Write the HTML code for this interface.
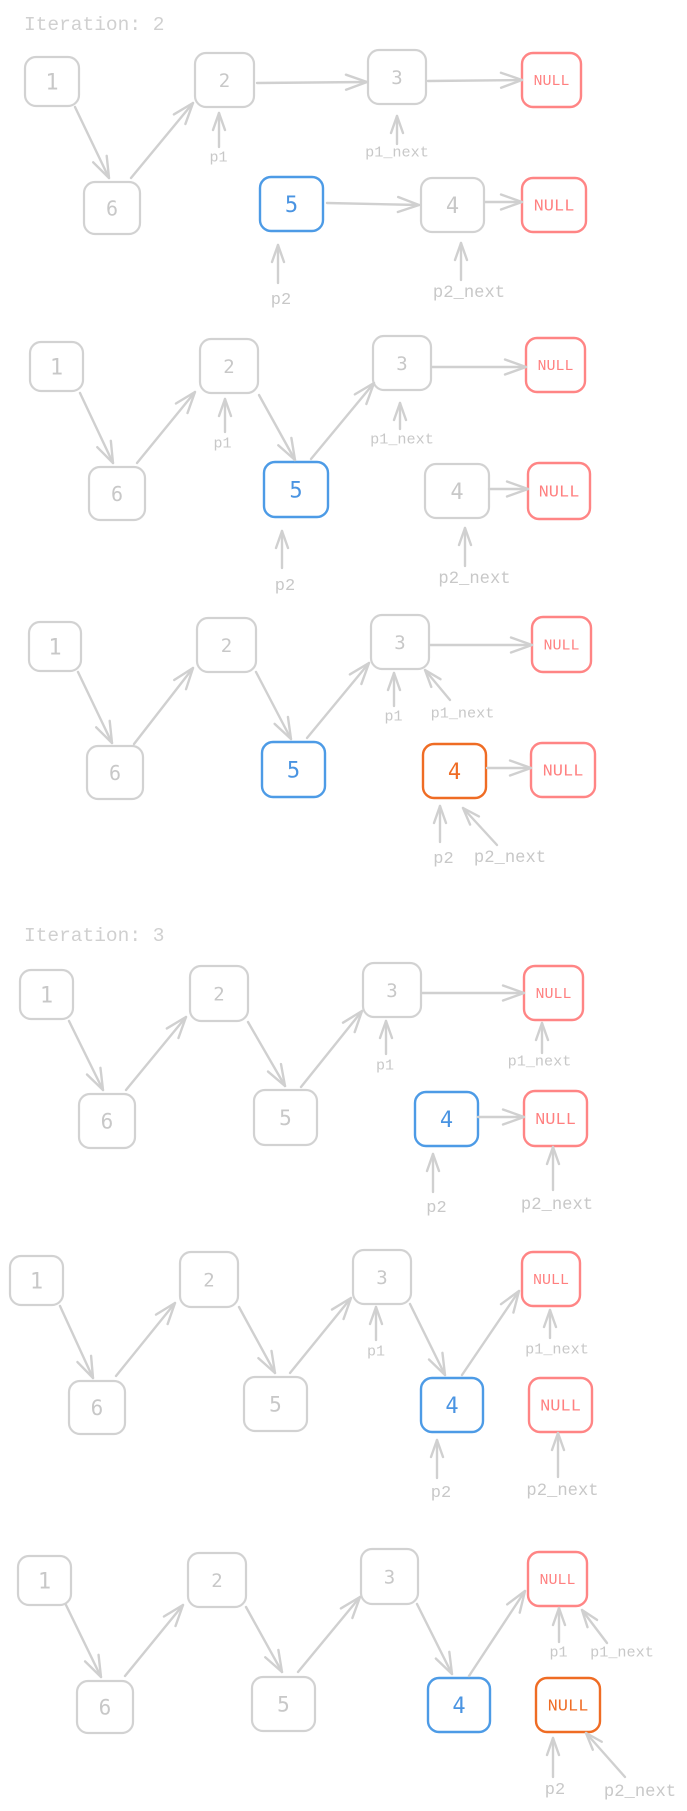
<!DOCTYPE html>
<html>
<head>
<meta charset="utf-8">
<style>
html,body{margin:0;padding:0;background:#fff;}
svg{display:block;}
</style>
</head>
<body>
<svg xmlns="http://www.w3.org/2000/svg" width="687" height="1811" viewBox="0 0 687 1811">
<defs>
<marker id="L" viewBox="-24 -12 26 24" refX="0" refY="0" markerWidth="26" markerHeight="24" markerUnits="userSpaceOnUse" orient="auto">
<path d="M-21,-7.5 L0,0 L-21,7.5" fill="none" stroke="#d0d0d0" stroke-width="2.4" stroke-linecap="round" stroke-linejoin="round"/>
</marker>
<marker id="M" viewBox="-20 -10 22 20" refX="0" refY="0" markerWidth="22" markerHeight="20" markerUnits="userSpaceOnUse" orient="auto">
<path d="M-17,-6 L0,0 L-17,6" fill="none" stroke="#d0d0d0" stroke-width="2.4" stroke-linecap="round" stroke-linejoin="round"/>
</marker>
</defs>
<rect width="687" height="1811" fill="#fff"/>

<g font-family="'Liberation Mono', 'DejaVu Sans Mono', monospace">
<text x="24" y="30" font-size="19.5" fill="#d0d0d0">Iteration: 2</text>
<text x="24" y="941" font-size="19.5" fill="#d0d0d0">Iteration: 3</text>
</g>

<!-- grey boxes -->
<g fill="none" stroke="#d2d2d2" stroke-width="2.2">
<rect x="25" y="57" width="54" height="49" rx="11"/>
<rect x="195" y="53" width="59" height="54" rx="11"/>
<rect x="368" y="50" width="58" height="54" rx="11"/>
<rect x="84" y="182" width="56" height="52" rx="11"/>
<rect x="421" y="178" width="63" height="54" rx="11"/>
<rect x="30" y="342" width="53" height="49" rx="11"/>
<rect x="200" y="339" width="58" height="54" rx="11"/>
<rect x="373" y="336" width="58" height="54" rx="11"/>
<rect x="89" y="467" width="56" height="53" rx="11"/>
<rect x="425" y="464" width="64" height="54" rx="11"/>
<rect x="29" y="622" width="52" height="49" rx="11"/>
<rect x="197" y="618" width="59" height="54" rx="11"/>
<rect x="371" y="615" width="58" height="54" rx="11"/>
<rect x="87" y="746" width="56" height="53" rx="11"/>
<rect x="20" y="970" width="53" height="49" rx="11"/>
<rect x="190" y="966" width="58" height="55" rx="11"/>
<rect x="363" y="963" width="58" height="54" rx="11"/>
<rect x="79" y="1094" width="56" height="54" rx="11"/>
<rect x="254" y="1090" width="63" height="55" rx="11"/>
<rect x="10" y="1256" width="53" height="49" rx="11"/>
<rect x="180" y="1252" width="58" height="55" rx="11"/>
<rect x="353" y="1250" width="58" height="54" rx="11"/>
<rect x="69" y="1381" width="56" height="53" rx="11"/>
<rect x="244" y="1377" width="63" height="54" rx="11"/>
<rect x="18" y="1556" width="53" height="49" rx="11"/>
<rect x="188" y="1553" width="58" height="54" rx="11"/>
<rect x="361" y="1549" width="57" height="55" rx="11"/>
<rect x="77" y="1681" width="56" height="52" rx="11"/>
<rect x="252" y="1677" width="63" height="54" rx="11"/>
</g>

<!-- red NULL boxes -->
<g fill="none" stroke="#ff8585" stroke-width="2.4">
<rect x="522" y="53" width="59" height="54" rx="11"/>
<rect x="522" y="178" width="64" height="54" rx="11"/>
<rect x="526" y="338" width="59" height="54" rx="11"/>
<rect x="528" y="463" width="62" height="56" rx="11"/>
<rect x="532" y="617" width="59" height="55" rx="11"/>
<rect x="531" y="743" width="64" height="54" rx="11"/>
<rect x="524" y="966" width="59" height="54" rx="11"/>
<rect x="524" y="1091" width="63" height="55" rx="11"/>
<rect x="522" y="1252" width="58" height="54" rx="11"/>
<rect x="529" y="1378" width="63" height="54" rx="11"/>
<rect x="528" y="1552" width="59" height="54" rx="11"/>
</g>

<!-- blue boxes -->
<g fill="none" stroke="#4d9be6" stroke-width="2.4">
<rect x="260" y="177" width="63" height="54" rx="11"/>
<rect x="264" y="462" width="64" height="55" rx="11"/>
<rect x="262" y="742" width="63" height="55" rx="11"/>
<rect x="415" y="1092" width="63" height="54" rx="11"/>
<rect x="421" y="1378" width="62" height="54" rx="11"/>
<rect x="428" y="1678" width="62" height="54" rx="11"/>
</g>

<!-- orange boxes -->
<g fill="none" stroke="#ef6c24" stroke-width="2.4">
<rect x="423" y="744" width="63" height="54" rx="11"/>
<rect x="536" y="1678" width="64" height="54" rx="11"/>
</g>

<!-- arrows -->
<g stroke="#d0d0d0" stroke-width="2.4" stroke-linecap="round" fill="none">
<line x1="75" y1="107" x2="109" y2="178" marker-end="url(#L)"/>
<line x1="131" y1="178" x2="193" y2="103" marker-end="url(#L)"/>
<line x1="257" y1="83" x2="367" y2="82" marker-end="url(#L)"/>
<line x1="428" y1="81" x2="522" y2="80" marker-end="url(#L)"/>
<line x1="219" y1="147" x2="219" y2="113" marker-end="url(#M)"/>
<line x1="397" y1="144" x2="397" y2="116" marker-end="url(#M)"/>
<line x1="327" y1="203" x2="419" y2="205" marker-end="url(#L)"/>
<line x1="485" y1="202" x2="522" y2="202" marker-end="url(#L)"/>
<line x1="278" y1="283" x2="278" y2="245" marker-end="url(#M)"/>
<line x1="461" y1="280" x2="461" y2="243" marker-end="url(#M)"/>

<line x1="80" y1="393" x2="113" y2="463" marker-end="url(#L)"/>
<line x1="137" y1="463" x2="195" y2="392" marker-end="url(#L)"/>
<line x1="259" y1="395" x2="295" y2="460" marker-end="url(#L)"/>
<line x1="311" y1="459" x2="374" y2="383" marker-end="url(#L)"/>
<line x1="432" y1="367" x2="526" y2="367" marker-end="url(#L)"/>
<line x1="225" y1="432" x2="225" y2="399" marker-end="url(#M)"/>
<line x1="400" y1="429" x2="400" y2="403" marker-end="url(#M)"/>
<line x1="489" y1="489" x2="528" y2="489" marker-end="url(#L)"/>
<line x1="282" y1="568" x2="282" y2="531" marker-end="url(#M)"/>
<line x1="465" y1="566" x2="465" y2="528" marker-end="url(#M)"/>

<line x1="78" y1="672" x2="112" y2="743" marker-end="url(#L)"/>
<line x1="134" y1="744" x2="193" y2="668" marker-end="url(#L)"/>
<line x1="256" y1="672" x2="291" y2="739" marker-end="url(#L)"/>
<line x1="307" y1="738" x2="369" y2="663" marker-end="url(#L)"/>
<line x1="430" y1="645" x2="532" y2="645" marker-end="url(#L)"/>
<line x1="394" y1="706" x2="394" y2="673" marker-end="url(#M)"/>
<line x1="450" y1="700" x2="425" y2="670" marker-end="url(#M)"/>
<line x1="487" y1="768" x2="531" y2="768" marker-end="url(#L)"/>
<line x1="440" y1="842" x2="440" y2="806" marker-end="url(#M)"/>
<line x1="497" y1="845" x2="463" y2="808" marker-end="url(#M)"/>

<line x1="69" y1="1021" x2="103" y2="1090" marker-end="url(#L)"/>
<line x1="126" y1="1090" x2="186" y2="1017" marker-end="url(#L)"/>
<line x1="248" y1="1022" x2="285" y2="1086" marker-end="url(#L)"/>
<line x1="301" y1="1087" x2="362" y2="1011" marker-end="url(#L)"/>
<line x1="422" y1="993" x2="524" y2="993" marker-end="url(#L)"/>
<line x1="386" y1="1054" x2="386" y2="1021" marker-end="url(#M)"/>
<line x1="542" y1="1053" x2="542" y2="1023" marker-end="url(#M)"/>
<line x1="478" y1="1117" x2="524" y2="1117" marker-end="url(#L)"/>
<line x1="433" y1="1192" x2="433" y2="1154" marker-end="url(#M)"/>
<line x1="553" y1="1190" x2="553" y2="1147" marker-end="url(#M)"/>

<line x1="60" y1="1306" x2="93" y2="1378" marker-end="url(#L)"/>
<line x1="116" y1="1376" x2="175" y2="1303" marker-end="url(#L)"/>
<line x1="239" y1="1307" x2="275" y2="1373" marker-end="url(#L)"/>
<line x1="290" y1="1373" x2="351" y2="1298" marker-end="url(#L)"/>
<line x1="410" y1="1304" x2="445" y2="1375" marker-end="url(#L)"/>
<line x1="462" y1="1375" x2="519" y2="1291" marker-end="url(#L)"/>
<line x1="376" y1="1340" x2="376" y2="1307" marker-end="url(#M)"/>
<line x1="550" y1="1338" x2="550" y2="1310" marker-end="url(#M)"/>
<line x1="437" y1="1478" x2="437" y2="1440" marker-end="url(#M)"/>
<line x1="558" y1="1477" x2="558" y2="1433" marker-end="url(#M)"/>

<line x1="66" y1="1605" x2="101" y2="1677" marker-end="url(#L)"/>
<line x1="125" y1="1676" x2="183" y2="1605" marker-end="url(#L)"/>
<line x1="246" y1="1607" x2="282" y2="1672" marker-end="url(#L)"/>
<line x1="298" y1="1672" x2="360" y2="1597" marker-end="url(#L)"/>
<line x1="417" y1="1604" x2="452" y2="1674" marker-end="url(#L)"/>
<line x1="469" y1="1676" x2="525" y2="1591" marker-end="url(#L)"/>
<line x1="559" y1="1642" x2="559" y2="1608" marker-end="url(#M)"/>
<line x1="607" y1="1643" x2="582" y2="1610" marker-end="url(#M)"/>
<line x1="553" y1="1777" x2="553" y2="1738" marker-end="url(#M)"/>
<line x1="625" y1="1777" x2="586" y2="1733" marker-end="url(#M)"/>
</g>

<!-- node digits -->
<g font-family="'DejaVu Sans Mono', 'Liberation Mono', monospace" text-anchor="middle">
<g fill="#c8c8c8">
<text x="52" y="89.5" font-size="22">1</text>
<text x="224.5" y="86.9" font-size="19">2</text>
<text x="397" y="83.9" font-size="19">3</text>
<text x="112" y="215.3" font-size="20">6</text>
<text x="452.5" y="213" font-size="22">4</text>

<text x="56.5" y="374.5" font-size="22">1</text>
<text x="229" y="372.9" font-size="19">2</text>
<text x="402" y="369.9" font-size="19">3</text>
<text x="117" y="500.8" font-size="20">6</text>
<text x="457" y="499" font-size="22">4</text>

<text x="55" y="654.5" font-size="22">1</text>
<text x="226.5" y="651.9" font-size="19">2</text>
<text x="400" y="648.9" font-size="19">3</text>
<text x="115" y="779.8" font-size="20">6</text>

<text x="46.5" y="1002.5" font-size="22">1</text>
<text x="219" y="1000.4" font-size="19">2</text>
<text x="392" y="996.9" font-size="19">3</text>
<text x="107" y="1128.7" font-size="21">6</text>
<text x="285.5" y="1125.2" font-size="21">5</text>

<text x="36.5" y="1288.5" font-size="22">1</text>
<text x="209" y="1286.4" font-size="19">2</text>
<text x="382" y="1283.9" font-size="19">3</text>
<text x="97" y="1415.2" font-size="21">6</text>
<text x="275.5" y="1411.7" font-size="21">5</text>

<text x="44.5" y="1588.5" font-size="22">1</text>
<text x="217" y="1586.9" font-size="19">2</text>
<text x="389.5" y="1583.4" font-size="19">3</text>
<text x="105" y="1714.7" font-size="21">6</text>
<text x="283.5" y="1711.7" font-size="21">5</text>
</g>
<g fill="#4a94e2" font-size="22">
<text x="291.5" y="212">5</text>
<text x="296" y="497.5">5</text>
<text x="293.5" y="777.5">5</text>
<text x="446.5" y="1127">4</text>
<text x="452" y="1413">4</text>
<text x="459" y="1713">4</text>
</g>
<g fill="#ef6c24">
<text x="454.5" y="779" font-size="22">4</text>
</g>
</g>

<g font-family="'Liberation Mono', 'DejaVu Sans Mono', monospace" text-anchor="middle">
<text x="568" y="1710.6" font-size="17" fill="#ef6c24">NULL</text>
<g fill="#ff8080">
<text x="551.5" y="85" font-size="15">NULL</text>
<text x="554" y="210.6" font-size="17">NULL</text>
<text x="555.5" y="370" font-size="15">NULL</text>
<text x="559" y="496.6" font-size="17">NULL</text>
<text x="561.5" y="649.5" font-size="15">NULL</text>
<text x="563" y="775.6" font-size="17">NULL</text>
<text x="553.5" y="998" font-size="15">NULL</text>
<text x="555.5" y="1124" font-size="17">NULL</text>
<text x="551" y="1284" font-size="15">NULL</text>
<text x="560.5" y="1410.6" font-size="17">NULL</text>
<text x="557.5" y="1584" font-size="15">NULL</text>
</g>

<g fill="#c8c8c8">
<text x="218.5" y="161.5" font-size="15">p1</text>
<text x="397" y="156.5" font-size="15.2">p1_next</text>
<text x="281" y="304" font-size="17">p2</text>
<text x="469" y="297" font-size="17.2">p2_next</text>

<text x="222.5" y="447.5" font-size="15">p1</text>
<text x="402" y="443.5" font-size="15.2">p1_next</text>
<text x="285" y="590" font-size="17">p2</text>
<text x="474.5" y="583" font-size="17.2">p2_next</text>

<text x="393.5" y="720.5" font-size="15">p1</text>
<text x="462.5" y="717.5" font-size="15.2">p1_next</text>
<text x="443.5" y="863" font-size="17">p2</text>
<text x="510" y="862" font-size="17.2">p2_next</text>

<text x="385" y="1069.5" font-size="15">p1</text>
<text x="539.5" y="1065.5" font-size="15.2">p1_next</text>
<text x="436.5" y="1212" font-size="17">p2</text>
<text x="557" y="1209" font-size="17.2">p2_next</text>

<text x="376" y="1355.5" font-size="15">p1</text>
<text x="557" y="1353.5" font-size="15.2">p1_next</text>
<text x="441" y="1497" font-size="17">p2</text>
<text x="562.5" y="1495" font-size="17.2">p2_next</text>

<text x="558.5" y="1656.5" font-size="15">p1</text>
<text x="622" y="1656.5" font-size="15.2">p1_next</text>
<text x="555" y="1794" font-size="17">p2</text>
<text x="640" y="1796" font-size="17.2">p2_next</text>
</g>
</g>
</svg>
</body>
</html>
